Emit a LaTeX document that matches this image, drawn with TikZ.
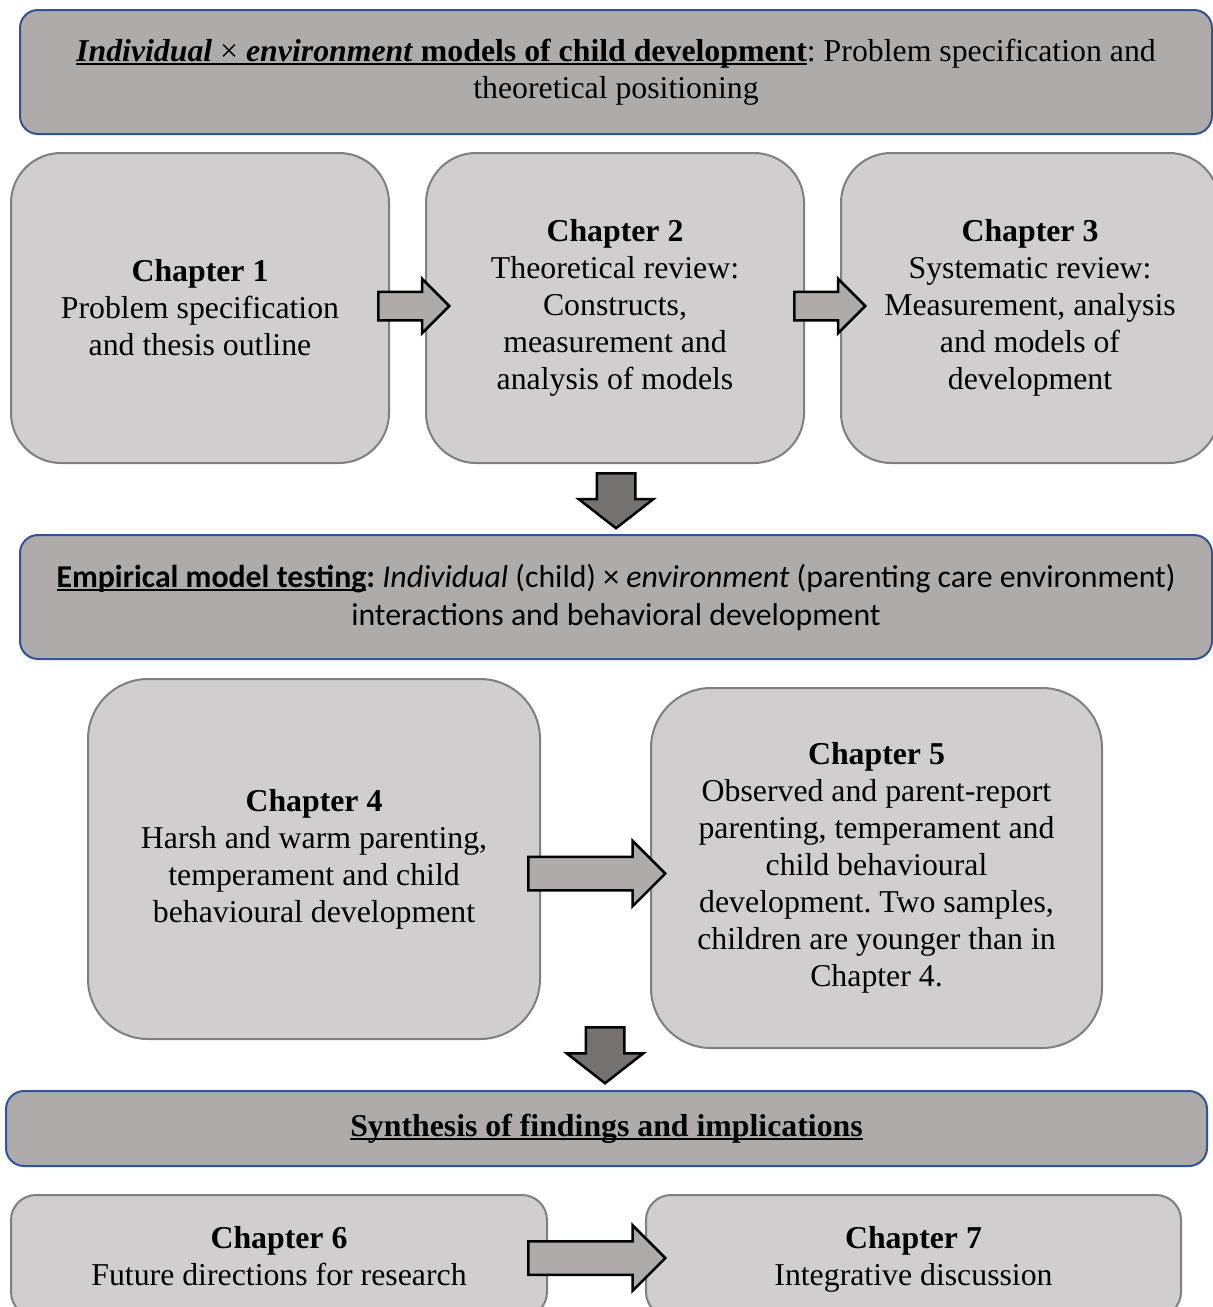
\documentclass[tikz,border=0pt]{standalone}
\usepackage{fontspec}
\setmainfont{Liberation Serif}
\newfontfamily\calibri{Carlito}
\usetikzlibrary{shapes.arrows,positioning}

\definecolor{bannerfill}{HTML}{AFABAB}
\definecolor{bannerline}{HTML}{2F5597}
\definecolor{boxfill}{HTML}{D0CECE}
\definecolor{boxline}{HTML}{7F7F7F}
\definecolor{downfill}{HTML}{767171}

\newsavebox\ulbox
\newcommand{\ulin}[1]{\sbox\ulbox{#1}\rlap{\rule[-4pt]{\wd\ulbox}{2.2pt}}\usebox\ulbox}
\newcommand{\nodepth}[1]{\raisebox{0pt}[\height][0pt]{#1}}

\begin{document}
\frenchspacing
\begin{tikzpicture}[x=1pt,y=-1pt,node distance=415pt,on grid,
  font=\fontsize{31.8}{37}\selectfont,
  banner/.style={draw=bannerline,line width=2pt,fill=bannerfill,rounded corners=18pt,align=center,inner sep=0pt},
  chap/.style={draw=boxline,line width=2pt,fill=boxfill,align=center,inner sep=0pt},
  fwd/.style={single arrow,draw=black,line width=2.5pt,fill=bannerfill,inner xsep=0pt,anchor=tail,single arrow tip angle=90},
  down/.style={fwd,fill=downfill,rotate=-90,single arrow tip angle=104}]
  \useasboundingbox (0,0) rectangle (1213,1307);

  \node[banner,minimum width=1192pt,minimum height=124pt] (b1) at (616,72)
    {\ulin{\textbf{\textit{Individual}} × \textbf{\textit{environment}} \textbf{models of child development}}: Problem specification and\\theoretical positioning};

  \node[chap,minimum width=378pt,minimum height=310pt,rounded corners=50pt] (c1) at (200,308)
    {\textbf{Chapter 1}\\Problem specification\\and thesis outline};
  \node[chap,minimum width=378pt,minimum height=310pt,rounded corners=50pt] (c2) [right=of c1]
    {\textbf{Chapter 2}\\Theoretical review:\\Constructs,\\measurement and\\analysis of models};
  \node[chap,minimum width=378pt,minimum height=310pt,rounded corners=50pt] (c3) [right=of c2]
    {\textbf{Chapter 3}\\Systematic review:\\Measurement, analysis\\and models of\\development};

  \node[fwd,minimum height=71pt,inner ysep=13pt,single arrow head extend=13pt] (a1) at (377,306) {};
  \node[fwd,minimum height=71pt,inner ysep=13pt,single arrow head extend=13pt] (a2) at (793,306) {};
  \node[down,minimum height=55pt,inner ysep=18pt,single arrow head extend=18pt] (d1) at (616,472) {};

  \node[banner,minimum width=1192pt,minimum height=124pt,font=\calibri\fontsize{31.8}{38}\selectfont] (b2) at (616,597)
    {\ulin{\textbf{Empirical model testing}}\textbf{:} \textit{Individual} (child) × \textit{environment} (parenting care environment)\\interactions and behavioral development};

  \node[chap,minimum width=452pt,minimum height=360pt,rounded corners=60pt] (c4) at (314,859)
    {\textbf{Chapter 4}\\Harsh and warm parenting,\\temperament and child\\behavioural development};
  \node[chap,minimum width=451pt,minimum height=360pt,rounded corners=60pt] (c5) at (876.5,868)
    {\textbf{Chapter 5}\\Observed and parent-report\\parenting, temperament and\\child behavioural\\development. Two samples,\\children are younger than in\\Chapter 4.};

  \node[fwd,minimum height=137pt,inner ysep=15.5pt,single arrow head extend=16pt] (a3) at (527,873.5) {};
  \node[down,minimum height=56pt,inner ysep=18pt,single arrow head extend=19pt] (d2) at (605,1026) {};

  \node[banner,minimum width=1201pt,minimum height=75pt] (b3) at (606.5,1128.5)
    {\ulin{\textbf{Synthesis of findings and implications}}};

  \node[chap,minimum width=536pt,minimum height=122pt,rounded corners=25pt] (c6) at (279,1256)
    {\textbf{Chapter 6}\\Future directions for research};
  \node[chap,minimum width=535pt,minimum height=122pt,rounded corners=25pt] (c7) at (913.5,1256)
    {\textbf{Chapter 7}\\\nodepth{Integrative discussion}};

  \node[fwd,minimum height=137pt,inner ysep=15.5pt,single arrow head extend=16pt] (a4) at (527,1258) {};
\end{tikzpicture}
\end{document}
